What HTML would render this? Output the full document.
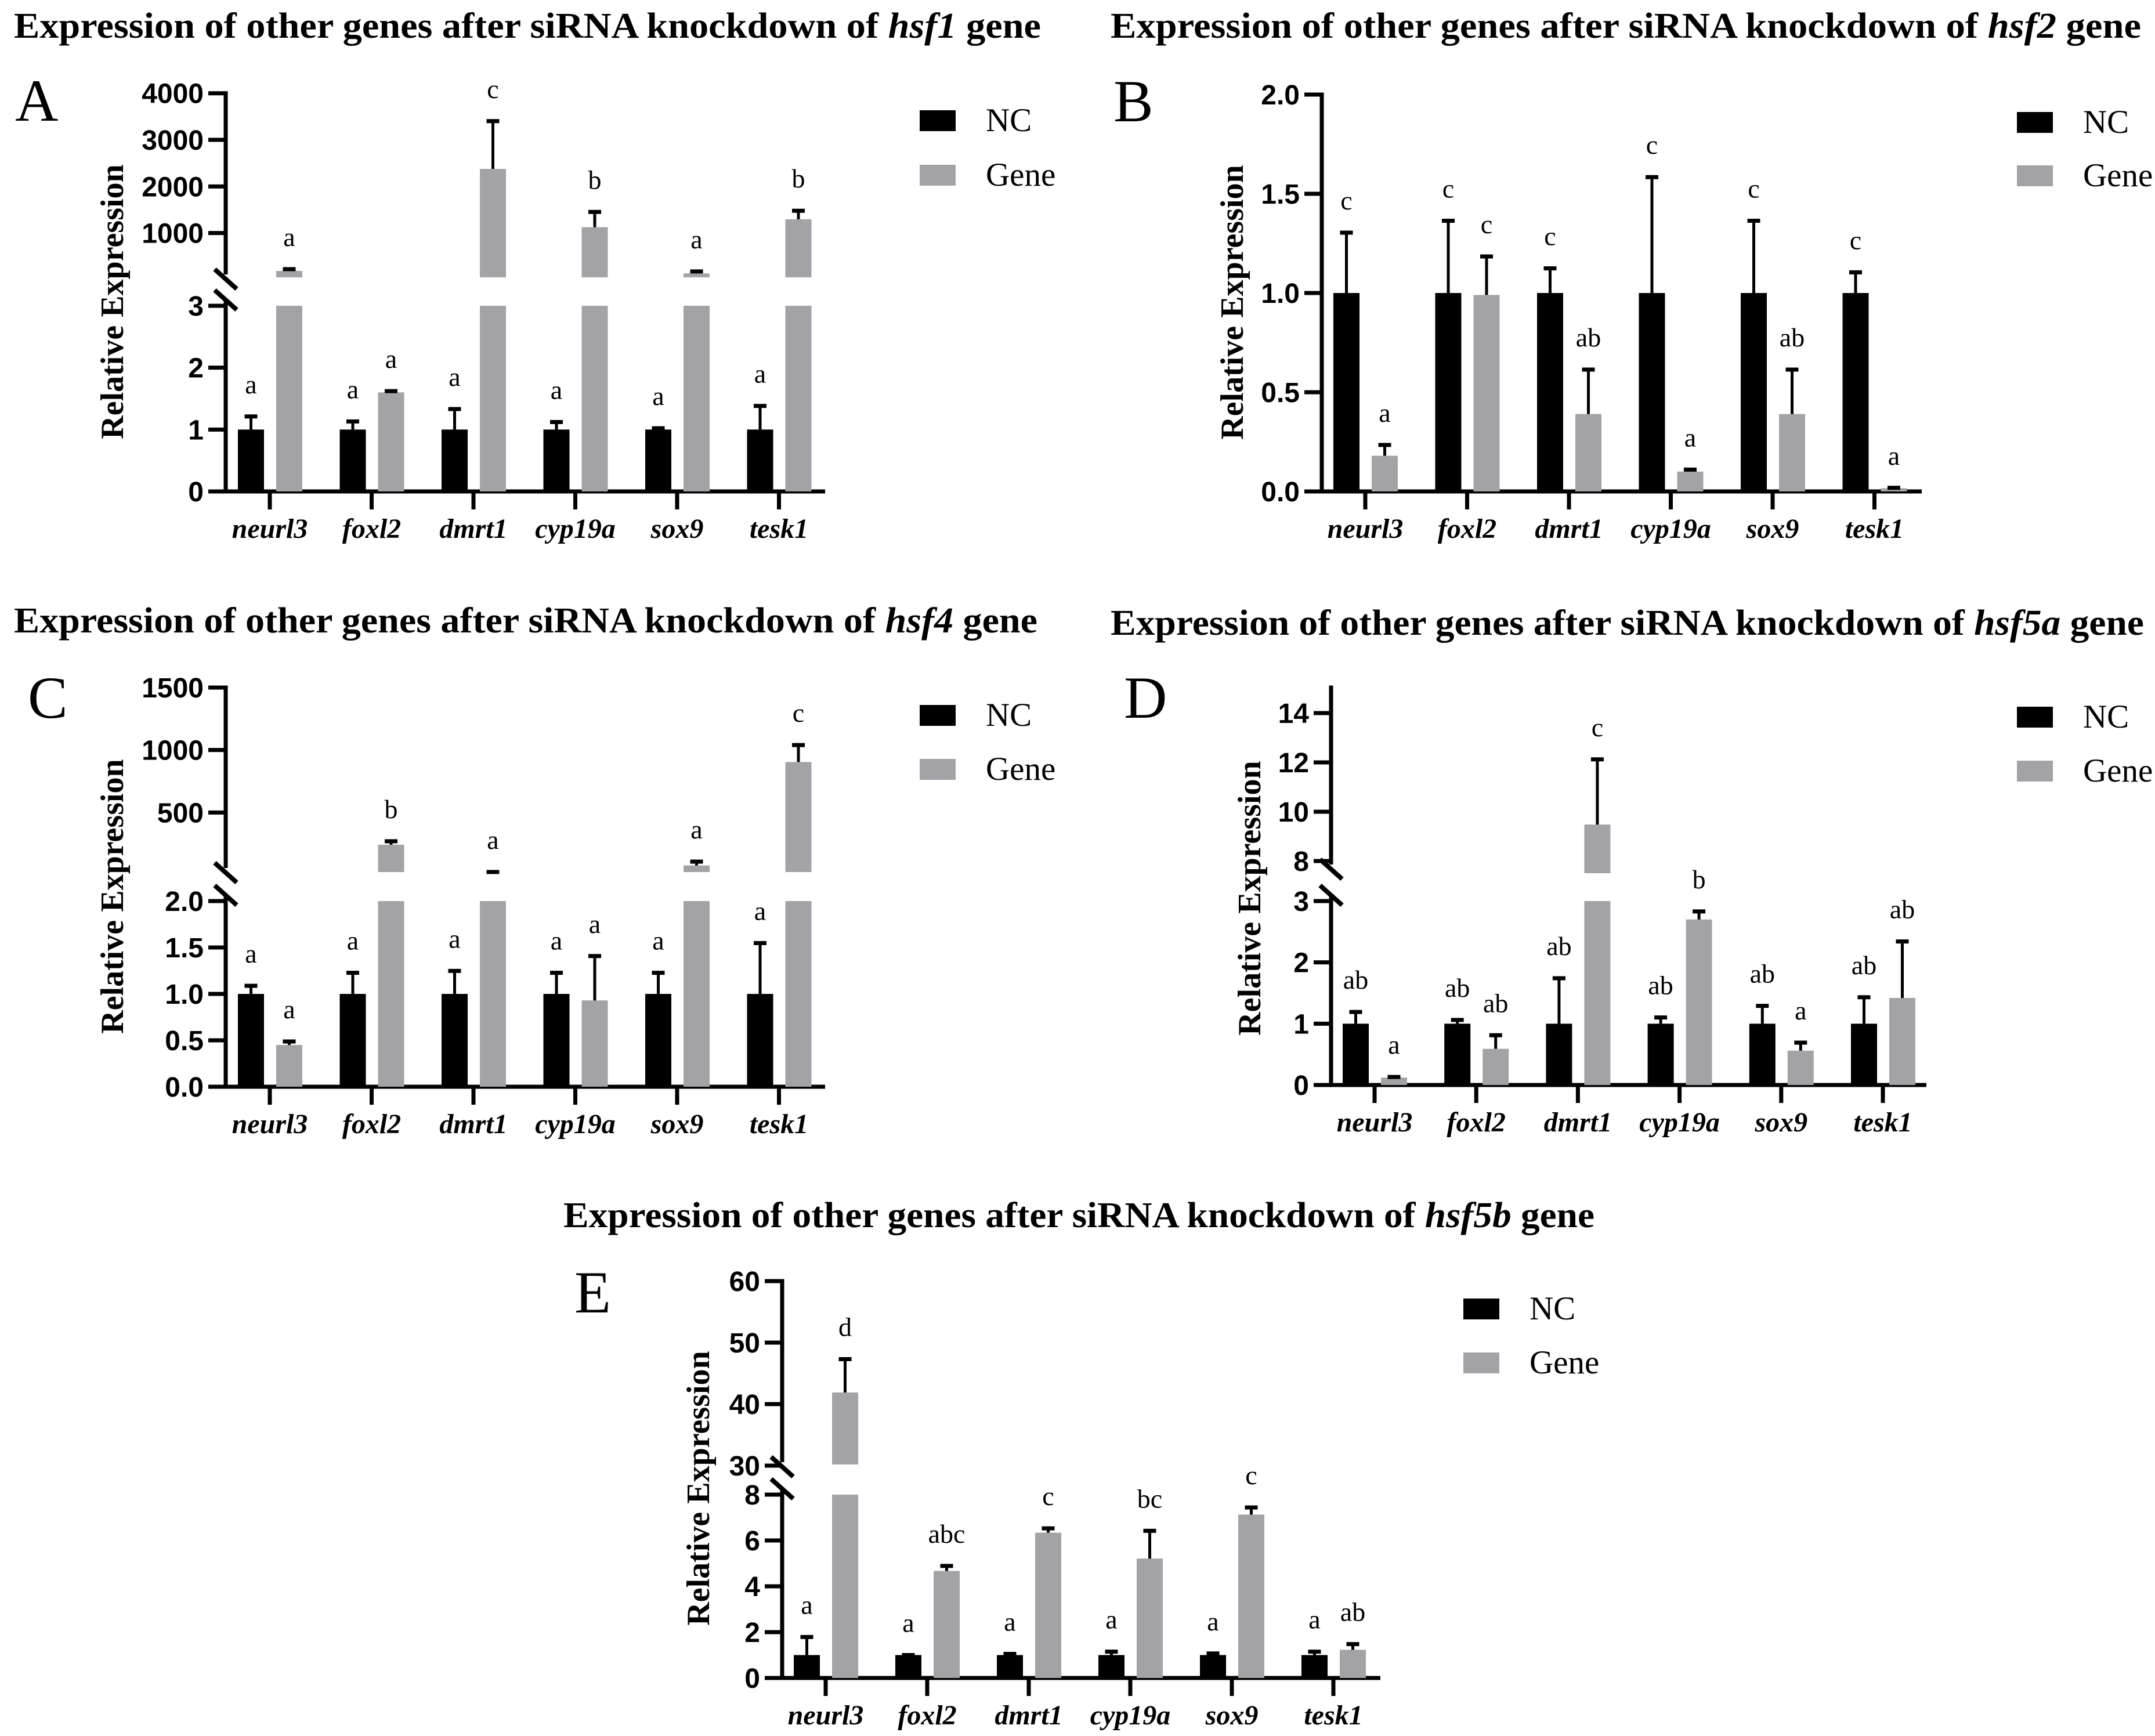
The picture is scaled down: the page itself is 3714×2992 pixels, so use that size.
<!DOCTYPE html>
<html><head><meta charset="utf-8"><style>html,body{margin:0;padding:0;background:#fff}svg{display:block}</style></head>
<body>
<svg id="fig" xmlns="http://www.w3.org/2000/svg" width="3714" height="2992" viewBox="0 0 3714 2992">
<rect width="3714" height="2992" fill="#fff"/>
</svg>
<script>
const categories = ["neurl3","foxl2","dmrt1","cyp19a","sox9","tesk1"];
// Panel A (hsf1)
const aNcMean = [1,1,1,1,1,1];
const aNcErr = [0.23,0.15,0.35,0.14,0.04,0.40];
const aGeneMean = [187,1.6,2376,1125,134,1296];
const aGeneErr = [63,0.04,1050,353,66,208];
const aNcLetters = ["a","a","a","a","a","a"];
const aGeneLetters = ["a","a","c","b","a","b"];
const aLowerTicks = [0,1,2,3];
const aUpperTicks = [1000,2000,3000,4000];
// Panel B (hsf2)
const bNcMean = [1,1,1,1,1,1];
const bNcErr = [0.31,0.37,0.13,0.59,0.37,0.11];
const bGeneMean = [0.18,0.99,0.39,0.10,0.39,0.016];
const bGeneErr = [0.06,0.2,0.23,0.016,0.23,0.008];
const bNcLetters = ["c","c","c","c","c","c"];
const bGeneLetters = ["a","c","ab","a","ab","a"];
const bLowerTicks = [0,0.5,1,1.5,2];
// Panel C (hsf4)
const cNcMean = [1,1,1,1,1,1];
const cNcErr = [0.10,0.24,0.26,0.24,0.24,0.56];
const cGeneMean = [0.45,242,20,0.93,76,904];
const cGeneErr = [0.05,37,13,0.49,40,145];
const cNcLetters = ["a","a","a","a","a","a"];
const cGeneLetters = ["a","b","a","a","a","c"];
const cLowerTicks = [0,0.5,1,1.5,2];
const cUpperTicks = [500,1000,1500];
// Panel D (hsf5a)
const dNcMean = [1,1,1,1,1,1];
const dNcErr = [0.21,0.08,0.76,0.12,0.31,0.45];
const dGeneMean = [0.12,0.59,9.48,2.70,0.56,1.42];
const dGeneErr = [0.03,0.24,2.69,0.15,0.15,0.94];
const dNcLetters = ["ab","ab","ab","ab","ab","ab"];
const dGeneLetters = ["a","ab","c","b","a","ab"];
const dLowerTicks = [0,1,2,3];
const dUpperTicks = [8,10,12,14];
// Panel E (hsf5b)
const eNcMean = [1,1,1,1,1,1];
const eNcErr = [0.84,0.05,0.1,0.2,0.12,0.2];
const eGeneMean = [41.9,4.67,6.34,5.21,7.13,1.23];
const eGeneErr = [5.6,0.27,0.24,1.26,0.36,0.3];
const eNcLetters = ["a","a","a","a","a","a"];
const eGeneLetters = ["d","abc","c","bc","c","ab"];
const eLowerTicks = [0,2,4,6,8];
const eUpperTicks = [30,40,50,60];

const NS = "http://www.w3.org/2000/svg";
const svg = document.getElementById("fig");
const SERIF = '"Liberation Serif", "Times New Roman", serif';
const SANS = '"Liberation Sans", Arial, sans-serif';

function mk(tag, attrs, parent) {
  const el = document.createElementNS(NS, tag);
  for (const k in attrs) el.setAttribute(k, attrs[k]);
  (parent || svg).appendChild(el);
  return el;
}

const panels = [
  {id:"a", letter:"A", gene:"hsf1", title:[24,65,1770], letterPos:[26,208],
   ax:389, xStart:360, xEnd:1422, t0:465, step:175.5, y0:847,
   lower:{max:3, yTop:527, ticks:aLowerTicks, dec:0},
   upper:{vA:0, yA:482, vB:4000, yB:160.7, base:478, axBottom:473, axTop:160.7, ticks:aUpperTicks},
   nc:aNcMean, ncErr:aNcErr, gm:aGeneMean, ge:aGeneErr, nl:aNcLetters, gl:aGeneLetters,
   legend:[1585,190,284], yTitle:[212,520]},
  {id:"b", letter:"B", gene:"hsf2", title:[1914,65,1776], letterPos:[1919,209],
   ax:2278, xStart:2252, xEnd:3312, t0:2353, step:175.5, y0:847,
   lower:{max:2, yTop:163, ticks:bLowerTicks, dec:1}, upper:null,
   nc:bNcMean, ncErr:bNcErr, gm:bGeneMean, ge:bGeneErr, nl:bNcLetters, gl:bGeneLetters,
   legend:[3476,193,285], yTitle:[2142,521]},
  {id:"c", letter:"C", gene:"hsf4", title:[24,1090,1764], letterPos:[48,1237],
   ax:389, xStart:360, xEnd:1422, t0:465, step:175.5, y0:1873,
   lower:{max:2, yTop:1553, ticks:cLowerTicks, dec:1},
   upper:{vA:0, yA:1508, vB:1500, yB:1185, base:1503, axBottom:1496, axTop:1185, ticks:cUpperTicks},
   nc:cNcMean, ncErr:cNcErr, gm:cGeneMean, ge:cGeneErr, nl:cNcLetters, gl:cGeneLetters,
   legend:[1585,1215,1308], yTitle:[212,1545]},
  {id:"d", letter:"D", gene:"hsf5a", title:[1914,1094,1781], letterPos:[1937,1237],
   ax:2294, xStart:2264, xEnd:3320, t0:2369, step:175.2, y0:1870,
   lower:{max:3, yTop:1553, ticks:dLowerTicks, dec:0},
   upper:{vA:8, yA:1484, vB:14, yB:1229, base:1505, axBottom:1490, axTop:1185, ticks:dUpperTicks},
   nc:dNcMean, ncErr:dNcErr, gm:dGeneMean, ge:dGeneErr, nl:dNcLetters, gl:dGeneLetters,
   legend:[3476,1218,1311], yTitle:[2172,1548]},
  {id:"e", letter:"E", gene:"hsf5b", title:[971,2115,1777], letterPos:[990,2262],
   ax:1348, xStart:1321, xEnd:2379, t0:1423, step:175, y0:2892,
   lower:{max:8, yTop:2576, ticks:eLowerTicks, dec:0},
   upper:{vA:30, yA:2526, vB:60, yB:2208, base:2524, axBottom:2520, axTop:2208, ticks:eUpperTicks},
   nc:eNcMean, ncErr:eNcErr, gm:eGeneMean, ge:eGeneErr, nl:eNcLetters, gl:eGeneLetters,
   legend:[2522,2238,2331], yTitle:[1222,2565]}
];

function yOf(p, v) {
  if (!p.upper || v <= p.lower.max) return p.y0 - v * (p.y0 - p.lower.yTop) / p.lower.max;
  const u = p.upper;
  return u.yA + (v - u.vA) * (u.yB - u.yA) / (u.vB - u.vA);
}

const GRAY = "#a3a3a7";

panels.forEach(p => {
  const g = mk("g", {});
  
  

  // title
  const t = mk("text", {x:p.title[0], y:p.title[1], "font-family":SERIF, "font-size":62, "font-weight":"bold", textLength:p.title[2], lengthAdjust:"spacingAndGlyphs"}, g);
  
  
  t.appendChild(document.createTextNode("Expression of other genes after siRNA knockdown of "));
  const ts = mk("tspan", {"font-style":"italic"}, t);
  ts.textContent = p.gene;
  t.appendChild(document.createTextNode(" gene"));

  // panel letter
  const pl = mk("text", {x:p.letterPos[0], y:p.letterPos[1], "font-family":SERIF, "font-size":103}, g);
  
  
  pl.textContent = p.letter;

  // y title
  const yt = mk("text", {transform:`translate(${p.yTitle[0]},${p.yTitle[1]}) rotate(-90)`, "text-anchor":"middle", "font-family":SERIF, "font-size":56, "font-weight":"bold"}, g);
  
  
  yt.textContent = "Relative Expression";

  // axes
  const axG = mk("g", {stroke:"#000", "stroke-width":7, fill:"none"}, g);
  
  
  const lowerTopAxis = p.upper ? p.lower.yTop - 8 : p.lower.yTop - 3.5;
  mk("line", {x1:p.ax, y1:lowerTopAxis, x2:p.ax, y2:p.y0}, axG);
  if (p.upper) {
    mk("line", {x1:p.ax, y1:p.upper.axTop - 3.5, x2:p.ax, y2:p.upper.axBottom}, axG);
    const c1 = p.upper.axBottom + 8, c2 = p.lower.yTop - 10;
    const s1 = mk("line", {x1:p.ax-19, y1:c1-17, x2:p.ax+19, y2:c1+17, "stroke-width":8}, axG);
    
    
    const s2 = mk("line", {x1:p.ax-19, y1:c2-17, x2:p.ax+19, y2:c2+17, "stroke-width":8}, axG);
    
    
  }
  const allTicks = p.lower.ticks.map(v => [v, p.lower.dec]).concat(p.upper ? p.upper.ticks.map(v => [v, 0]) : []);
  allTicks.forEach(([v, dec]) => {
    const y = yOf(p, v);
    mk("line", {x1:p.ax-30, y1:y, x2:p.ax, y2:y}, axG);
    const tl = mk("text", {x:p.ax-38, y:y+17, "text-anchor":"end", "font-family":SANS, "font-size":48, "font-weight":"bold", fill:"#000", stroke:"none"}, g);
    
    
    tl.textContent = v.toFixed(dec);
  });

  const xa = mk("line", {x1:p.xStart, y1:p.y0, x2:p.xEnd, y2:p.y0, stroke:"#000", "stroke-width":7}, g);
  
  

  categories.forEach((cat, i) => {
    const tx = p.t0 + i * p.step;
    const tk = mk("line", {x1:tx, y1:p.y0, x2:tx, y2:p.y0+31, stroke:"#000", "stroke-width":7}, g);
    
    
    const xl = mk("text", {x:tx, y:p.y0+80, "text-anchor":"middle", "font-family":SERIF, "font-size":48, "font-weight":"bold", "font-style":"italic"}, g);
    
    
    xl.textContent = cat;

    [[p.nc[i], p.ncErr[i], "#000", tx-55, p.nl[i], "nc"], [p.gm[i], p.ge[i], GRAY, tx+11, p.gl[i], "gene"]].forEach(([m, e, col, bx, lt, ser]) => {
      const cx = bx + 22.5;
      const segs = [];
      if (p.upper && m > p.lower.max) {
        segs.push([p.lower.yTop, p.y0]);
        segs.push([yOf(p, m), p.upper.base]);
      } else {
        segs.push([yOf(p, m), p.y0]);
      }
      segs.forEach(([ya, yb]) => {
        const r = mk("rect", {x:bx, y:ya, width:45, height:Math.max(0, yb-ya), fill:col}, g);
        
        
      });
      const yTopBar = yOf(p, m), yErr = yOf(p, m + e);
      const eg = mk("g", {stroke:"#000", "stroke-width":5}, g);
      
      
      mk("line", {x1:cx, y1:yTopBar, x2:cx, y2:yErr}, eg);
      mk("line", {x1:cx-11, y1:yErr+2, x2:cx+11, y2:yErr+2, "stroke-width":7}, eg);
      const sl = mk("text", {x:cx, y:yErr-38, "text-anchor":"middle", "font-family":SERIF, "font-size":46}, g);
      
      
      sl.textContent = lt;
    });
  });

  // legend
  [["NC", "#000", p.legend[1]], ["Gene", GRAY, p.legend[2]]].forEach(([lab, col, ly]) => {
    const lg = mk("g", {}, g);
    
    
    mk("rect", {x:p.legend[0], y:ly, width:62, height:36, fill:col}, lg);
    const lt = mk("text", {x:p.legend[0]+114, y:ly+36, "font-family":SERIF, "font-size":57}, lg);
    lt.textContent = lab;
  });
});
</script>
</body></html>
